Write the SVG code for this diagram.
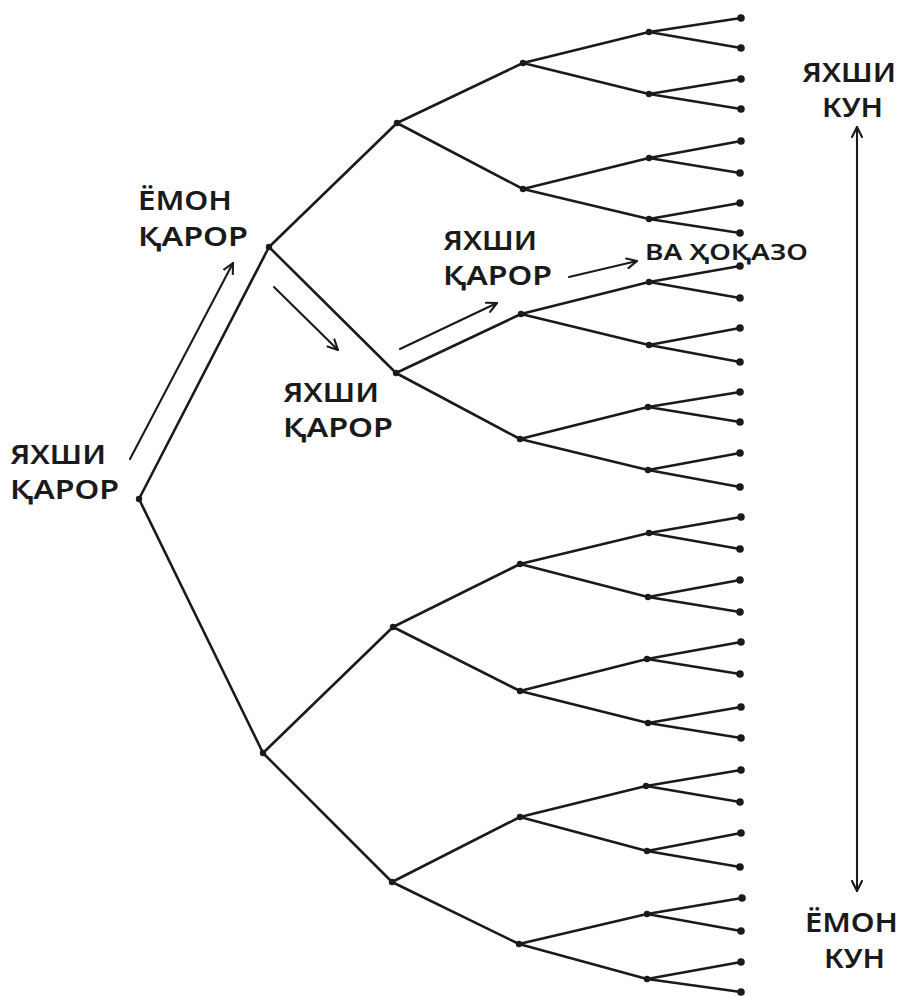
<svg xmlns="http://www.w3.org/2000/svg" width="902" height="996" viewBox="0 0 902 996">
<style>
.e{stroke:#1a1a1a;stroke-width:2.6;fill:none;stroke-linecap:round}
.ar{stroke:#1a1a1a;stroke-width:2.1;fill:none;stroke-linecap:round}
.n{fill:#1a1a1a}
.t{font-family:"Noto Sans","Liberation Sans",sans-serif;font-weight:600;font-size:27px;fill:#1a1a1a}
.s{font-size:22px}
</style>
<defs>
<marker id="ah" viewBox="0 0 12 12" refX="11" refY="6" markerWidth="12" markerHeight="12" markerUnits="userSpaceOnUse" orient="auto-start-reverse">
<path d="M1,1 L11,6 L1,11" fill="none" stroke="#1a1a1a" stroke-width="2.1" stroke-linecap="round" stroke-linejoin="round"/>
</marker>
</defs>
<rect width="902" height="996" fill="#fff"/>
<g id="connectors">
<path class="e" d="M139,499 L269,247 M139,499 L263,753 M269,247 L397,123 M269,247 L396,373 M263,753 L393,627 M263,753 L392,882"/>
<path class="e" d="M397,123 L523,63 M397,123 L523,189 M396,373 L521,314 M396,373 L520,439 M393,627 L520,564 M393,627 L520,691 M392,882 L520,817 M392,882 L519,944"/>
<path class="e" d="M523,63 L649,32 M523,63 L649,94 M523,189 L649,158 M523,189 L649,219 M521,314 L649,282 M521,314 L649,345 M520,439 L648,407 M520,439 L648,470 M520,564 L649,533 M520,564 L648,597 M520,691 L647,659 M520,691 L648,723 M520,817 L646,786 M520,817 L647,851 M519,944 L647,914 M519,944 L647,979"/>
<path class="e" d="M649,32 L741,18 M649,32 L741,48 M649,94 L741,79 M649,94 L741,109 M649,158 L741,141 M649,158 L740,173 M649,219 L740,203 M649,219 L740,233 M649,282 L740,266 M649,282 L740,298 M649,345 L740,328 M649,345 L740,362 M648,407 L740,392 M648,407 L740,422 M648,470 L740,453 M648,470 L740,487 M649,533 L741,517 M649,533 L740,549 M648,597 L740,580 M648,597 L740,612 M647,659 L741,642 M647,659 L740,674 M648,723 L741,707 M648,723 L741,738 M646,786 L741,770 M646,786 L740,802 M647,851 L741,833 M647,851 L740,867 M647,914 L742,898 M647,914 L741,931 M647,979 L741,962 M647,979 L741,992"/>
<line class="ar" x1="130" y1="459" x2="233" y2="263" marker-end="url(#ah)"/>
<line class="ar" x1="274" y1="287" x2="338" y2="350" marker-end="url(#ah)"/>
<line class="ar" x1="400" y1="349" x2="497" y2="303" marker-end="url(#ah)"/>
<line class="ar" x1="569" y1="277" x2="637" y2="261" marker-end="url(#ah)"/>
<line class="ar" x1="857" y1="127" x2="857" y2="891" marker-start="url(#ah)" marker-end="url(#ah)"/>
</g>
<g id="n-root"><circle class="n" cx="139" cy="499" r="3.2"/></g>
<g id="n-a"><circle class="n" cx="269" cy="247" r="3.2"/></g>
<g id="n-b"><circle class="n" cx="263" cy="753" r="3.2"/></g>
<g id="n-a1"><circle class="n" cx="397" cy="123" r="3.2"/></g>
<g id="n-a2"><circle class="n" cx="396" cy="373" r="3.2"/></g>
<g id="n-b1"><circle class="n" cx="393" cy="627" r="3.2"/></g>
<g id="n-b2"><circle class="n" cx="392" cy="882" r="3.2"/></g>
<g id="n-l3-1"><circle class="n" cx="523" cy="63" r="3.2"/></g>
<g id="n-l3-2"><circle class="n" cx="523" cy="189" r="3.2"/></g>
<g id="n-l3-3"><circle class="n" cx="521" cy="314" r="3.2"/></g>
<g id="n-l3-4"><circle class="n" cx="520" cy="439" r="3.2"/></g>
<g id="n-l3-5"><circle class="n" cx="520" cy="564" r="3.2"/></g>
<g id="n-l3-6"><circle class="n" cx="520" cy="691" r="3.2"/></g>
<g id="n-l3-7"><circle class="n" cx="520" cy="817" r="3.2"/></g>
<g id="n-l3-8"><circle class="n" cx="519" cy="944" r="3.2"/></g>
<g id="n-l4-1"><circle class="n" cx="649" cy="32" r="3.2"/></g>
<g id="n-l4-2"><circle class="n" cx="649" cy="94" r="3.2"/></g>
<g id="n-l4-3"><circle class="n" cx="649" cy="158" r="3.2"/></g>
<g id="n-l4-4"><circle class="n" cx="649" cy="219" r="3.2"/></g>
<g id="n-l4-5"><circle class="n" cx="649" cy="282" r="3.2"/></g>
<g id="n-l4-6"><circle class="n" cx="649" cy="345" r="3.2"/></g>
<g id="n-l4-7"><circle class="n" cx="648" cy="407" r="3.2"/></g>
<g id="n-l4-8"><circle class="n" cx="648" cy="470" r="3.2"/></g>
<g id="n-l4-9"><circle class="n" cx="649" cy="533" r="3.2"/></g>
<g id="n-l4-10"><circle class="n" cx="648" cy="597" r="3.2"/></g>
<g id="n-l4-11"><circle class="n" cx="647" cy="659" r="3.2"/></g>
<g id="n-l4-12"><circle class="n" cx="648" cy="723" r="3.2"/></g>
<g id="n-l4-13"><circle class="n" cx="646" cy="786" r="3.2"/></g>
<g id="n-l4-14"><circle class="n" cx="647" cy="851" r="3.2"/></g>
<g id="n-l4-15"><circle class="n" cx="647" cy="914" r="3.2"/></g>
<g id="n-l4-16"><circle class="n" cx="647" cy="979" r="3.2"/></g>
<g id="leaves">
<g id="leaf-1"><circle class="n" cx="741" cy="18" r="3.8"/></g>
<g id="leaf-2"><circle class="n" cx="741" cy="48" r="3.8"/></g>
<g id="leaf-3"><circle class="n" cx="741" cy="79" r="3.8"/></g>
<g id="leaf-4"><circle class="n" cx="741" cy="109" r="3.8"/></g>
<g id="leaf-5"><circle class="n" cx="741" cy="141" r="3.8"/></g>
<g id="leaf-6"><circle class="n" cx="740" cy="173" r="3.8"/></g>
<g id="leaf-7"><circle class="n" cx="740" cy="203" r="3.8"/></g>
<g id="leaf-8"><circle class="n" cx="740" cy="233" r="3.8"/></g>
<g id="leaf-9"><circle class="n" cx="740" cy="266" r="3.8"/></g>
<g id="leaf-10"><circle class="n" cx="740" cy="298" r="3.8"/></g>
<g id="leaf-11"><circle class="n" cx="740" cy="328" r="3.8"/></g>
<g id="leaf-12"><circle class="n" cx="740" cy="362" r="3.8"/></g>
<g id="leaf-13"><circle class="n" cx="740" cy="392" r="3.8"/></g>
<g id="leaf-14"><circle class="n" cx="740" cy="422" r="3.8"/></g>
<g id="leaf-15"><circle class="n" cx="740" cy="453" r="3.8"/></g>
<g id="leaf-16"><circle class="n" cx="740" cy="487" r="3.8"/></g>
<g id="leaf-17"><circle class="n" cx="741" cy="517" r="3.8"/></g>
<g id="leaf-18"><circle class="n" cx="740" cy="549" r="3.8"/></g>
<g id="leaf-19"><circle class="n" cx="740" cy="580" r="3.8"/></g>
<g id="leaf-20"><circle class="n" cx="740" cy="612" r="3.8"/></g>
<g id="leaf-21"><circle class="n" cx="741" cy="642" r="3.8"/></g>
<g id="leaf-22"><circle class="n" cx="740" cy="674" r="3.8"/></g>
<g id="leaf-23"><circle class="n" cx="741" cy="707" r="3.8"/></g>
<g id="leaf-24"><circle class="n" cx="741" cy="738" r="3.8"/></g>
<g id="leaf-25"><circle class="n" cx="741" cy="770" r="3.8"/></g>
<g id="leaf-26"><circle class="n" cx="740" cy="802" r="3.8"/></g>
<g id="leaf-27"><circle class="n" cx="741" cy="833" r="3.8"/></g>
<g id="leaf-28"><circle class="n" cx="740" cy="867" r="3.8"/></g>
<g id="leaf-29"><circle class="n" cx="742" cy="898" r="3.8"/></g>
<g id="leaf-30"><circle class="n" cx="741" cy="931" r="3.8"/></g>
<g id="leaf-31"><circle class="n" cx="741" cy="962" r="3.8"/></g>
<g id="leaf-32"><circle class="n" cx="741" cy="992" r="3.8"/></g>
</g>
<g id="labels">
<text class="t" x="10" y="464" textLength="96" lengthAdjust="spacingAndGlyphs">ЯХШИ</text>
<text class="t" x="10" y="499" textLength="109" lengthAdjust="spacingAndGlyphs">ҚАРОР</text>
<text class="t" x="138" y="210" textLength="94" lengthAdjust="spacingAndGlyphs">ЁМОН</text>
<text class="t" x="138" y="246" textLength="110" lengthAdjust="spacingAndGlyphs">ҚАРОР</text>
<text class="t" x="283" y="402" textLength="96" lengthAdjust="spacingAndGlyphs">ЯХШИ</text>
<text class="t" x="283" y="437" textLength="110" lengthAdjust="spacingAndGlyphs">ҚАРОР</text>
<text class="t" x="443" y="250" textLength="94" lengthAdjust="spacingAndGlyphs">ЯХШИ</text>
<text class="t" x="443" y="285" textLength="109" lengthAdjust="spacingAndGlyphs">ҚАРОР</text>
<text class="t s" x="645" y="260" textLength="163" lengthAdjust="spacingAndGlyphs">ВА ҲОҚАЗО</text>
<text class="t" x="802" y="82" textLength="94" lengthAdjust="spacingAndGlyphs">ЯХШИ</text>
<text class="t" x="822" y="117" textLength="61" lengthAdjust="spacingAndGlyphs">КУН</text>
<text class="t" x="805" y="932" textLength="93" lengthAdjust="spacingAndGlyphs">ЁМОН</text>
<text class="t" x="824" y="968" textLength="61" lengthAdjust="spacingAndGlyphs">КУН</text>
</g>
</svg>
